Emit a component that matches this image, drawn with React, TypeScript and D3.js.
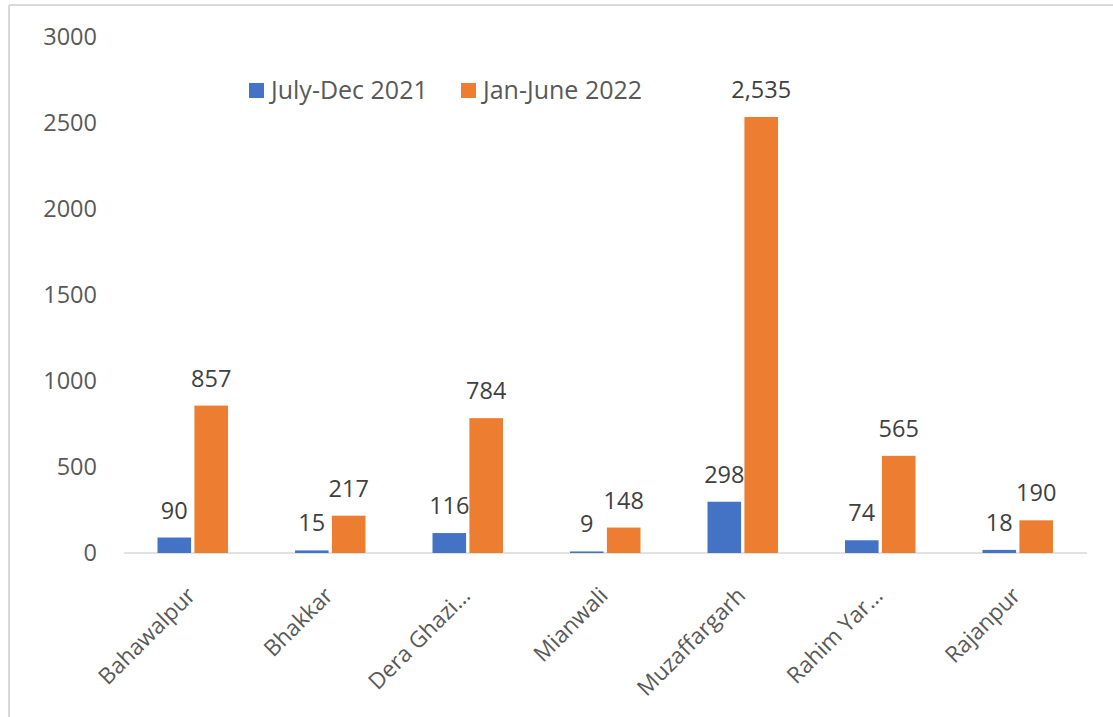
import React from "react";
import * as d3 from "d3";

const categories = ["Bahawalpur", "Bhakkar", "Dera Ghazi…", "Mianwali", "Muzaffargarh", "Rahim Yar…", "Rajanpur"];
const julyDec2021 = [90, 15, 116, 9, 298, 74, 18];
const janJune2022 = [857, 217, 784, 148, 2535, 565, 190];
const seriesNames = ["July-Dec 2021", "Jan-June 2022"];
const seriesColors = ["#4472C4", "#ED7D31"];
const yTicks = [0, 500, 1000, 1500, 2000, 2500, 3000];

const W = 1113;
const H = 717;
const FONT = "'Open Sans', 'Noto Sans', sans-serif";

export default function App() {
  const x0 = d3.scaleBand<string>().domain(categories).range([124, 1086.5]).paddingInner(0).paddingOuter(0);
  const y = d3.scaleLinear().domain([0, 3000]).range([553, 37]);
  const groupInner = 70.5;
  const x1 = d3
    .scaleBand<string>()
    .domain(seriesNames)
    .range([0, groupInner])
    .paddingInner(0.09)
    .paddingOuter(0);
  const groupOffset = (x0.bandwidth() - groupInner) / 2;
  const series = [julyDec2021, janJune2022];
  const fmt = d3.format(",");

  return (
    <svg
      width={W}
      height={H}
      style={{ position: "absolute", left: 0, top: 0, background: "#fff" }}
      fontFamily={FONT}
    >
      <rect x={0} y={0} width={W} height={H} fill="#fff" />
      <line x1={9} y1={5} x2={W} y2={5} stroke="#d9d9d9" strokeWidth={2} />
      <line x1={9} y1={5} x2={9} y2={H} stroke="#d9d9d9" strokeWidth={2} />

      {yTicks.map((t) => (
        <text key={t} x={97} y={y(t)} dy="0.35em" textAnchor="end" fontSize={23.5} fill="#595959">
          {t}
        </text>
      ))}

      <line x1={124} x2={1087} y1={y(0)} y2={y(0)} stroke="#d9d9d9" strokeWidth={1.5} />

      {categories.map((c, i) => (
        <g key={c} transform={`translate(${(x0(c) ?? 0) + groupOffset},0)`}>
          {series.map((s, si) => {
            const v = s[i];
            const bx = x1(seriesNames[si]) ?? 0;
            const bw = x1.bandwidth();
            return (
              <g key={si}>
                <rect x={bx} y={y(v)} width={bw} height={y(0) - y(v)} fill={seriesColors[si]} />
                <text
                  x={bx + bw / 2}
                  y={y(v) - 19}
                  textAnchor="middle"
                  fontSize={23.5}
                  fill="#404040"
                >
                  {fmt(v)}
                </text>
              </g>
            );
          })}
        </g>
      ))}

      {categories.map((c) => {
        const cx = (x0(c) ?? 0) + x0.bandwidth() / 2 + 4;
        const cy = 597;
        return (
          <text
            key={c}
            transform={`translate(${cx},${cy}) rotate(-45)`}
            textAnchor="end"
            fontSize={22.5}
            fill="#595959"
          >
            {c}
          </text>
        );
      })}

      <g>
        <rect x={249} y={83} width={15} height={15} fill={seriesColors[0]} />
        <text x={271} y={90.5} dy="0.35em" fontSize={25} fill="#595959">
          {seriesNames[0]}
        </text>
        <rect x={461} y={83} width={15} height={15} fill={seriesColors[1]} />
        <text x={483} y={90.5} dy="0.35em" fontSize={25} fill="#595959">
          {seriesNames[1]}
        </text>
      </g>
    </svg>
  );
}
